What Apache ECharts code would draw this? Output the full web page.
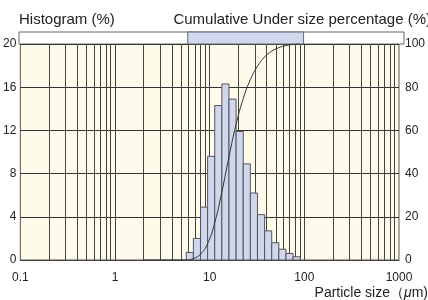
<!DOCTYPE html>
<html>
<head>
<meta charset="utf-8">
<script src="https://cdn.jsdelivr.net/npm/echarts@6/dist/echarts.min.js"></script>
<style>
    html, body { margin: 0; padding: 0; background: #fff; }
    #chart { width: 428px; height: 300px; }
</style>
</head>
<body>
<div id="chart"></div>
<script>
    // size classes (um), bar heights (%) and cumulative under size (%) at class edges
    let binEdges = [5.66, 6.73, 8, 9.51, 11.31, 13.45, 16, 19.03, 22.63, 26.91, 32, 38.05, 45.25, 53.82, 64, 76.11, 90.51];
    let histValues = [0.7, 2.0, 4.9, 9.6, 14.3, 16.3, 14.9, 11.9, 8.9, 6.2, 4.2, 2.7, 1.6, 1.0, 0.6, 0.3];
    let cumSizes = [2, 4, 5.66, 6.73, 8, 9.51, 11.31, 13.45, 16, 19.03, 22.63, 26.91, 32, 38.05, 45.25, 53.82, 64, 76.11, 90.51];
    let cumValues = [0, 0, 0, 0.7, 2.7, 7.6, 17.3, 31.5, 47.8, 62.8, 74.7, 83.5, 89.7, 94.0, 96.7, 98.3, 99.3, 99.8, 100];
    let xTickLabels = [0.1, 1, 10, 100, 1000];

    let font = 'Liberation Sans, Arial, sans-serif';

    // vertical grid lines at 1..9 of each decade
    let gridLines = [];
    for (let d = 0.1; d < 999; d *= 10) {
        for (let k = 1; k <= 9; k++) {
            if (k === 1 && d < 0.5) continue;
            gridLines.push({ xAxis: +(k * d).toPrecision(3) });
        }
    }

    let histData = [];
    for (let i = 0; i < histValues.length; i++) {
        histData.push([binEdges[i], binEdges[i + 1], histValues[i]]);
    }
    let cumData = [];
    for (let i = 0; i < cumSizes.length; i++) {
        cumData.push([cumSizes[i], cumValues[i]]);
    }

    let myChart = echarts.init(document.getElementById('chart'));
    myChart.setOption({
        animation: false,
        backgroundColor: '#fff',
        textStyle: { fontFamily: font },
        title: [
            {
                text: 'Histogram (%)',
                left: 19, top: 12, padding: 0,
                textStyle: { fontSize: 15, fontWeight: 'normal', color: '#222', fontFamily: font }
            },
            {
                text: 'Cumulative Under size percentage (%)',
                right: -3, top: 12, padding: 0,
                textStyle: { fontSize: 15, fontWeight: 'normal', color: '#222', fontFamily: font }
            }
        ],
        graphic: [{
            type: 'text',
            right: 0, top: 286,
            style: {
                text: 'Particle size（{i|μ}m)',
                fontSize: 14, fontFamily: font, fill: '#222',
                rich: { i: { fontStyle: 'italic', fontSize: 14, fontFamily: font } }
            }
        }],
        grid: [
            {
                left: 19, right: 24, top: 44, bottom: 40,
                show: true, backgroundColor: '#FFFBEA', borderColor: '#555', borderWidth: 1
            },
            {
                left: 19, right: 24, top: 32, height: 12,
                show: true, backgroundColor: '#fff', borderColor: '#666', borderWidth: 1
            }
        ],
        xAxis: [
            {
                type: 'log', logBase: 10, min: 0.1, max: 1000, gridIndex: 0,
                axisLine: { show: true, lineStyle: { color: '#444' } },
                axisTick: { show: false },
                splitLine: { show: false },
                axisLabel: {
                    color: '#222', fontSize: 12, margin: 12,
                    formatter: function (v) {
                        return xTickLabels.indexOf(+v) >= 0 ? String(+v) : '';
                    }
                }
            },
            {
                type: 'log', logBase: 10, min: 0.1, max: 1000, gridIndex: 1,
                show: false
            }
        ],
        yAxis: [
            {
                type: 'value', min: 0, max: 20, interval: 4, gridIndex: 0,
                axisLine: { show: false }, axisTick: { show: false },
                axisLabel: { color: '#222', fontSize: 12, margin: 4 },
                splitLine: { show: true, lineStyle: { color: '#333', width: 1 } }
            },
            {
                type: 'value', min: 0, max: 100, interval: 20, gridIndex: 0, position: 'right',
                axisLine: { show: false }, axisTick: { show: false },
                axisLabel: { color: '#222', fontSize: 12, margin: 6 },
                splitLine: { show: false }
            },
            {
                type: 'value', min: 0, max: 1, gridIndex: 1, show: false
            }
        ],
        series: [
            {
                // grid lines
                type: 'line', xAxisIndex: 0, yAxisIndex: 0, data: [], silent: true, z: 1,
                markLine: {
                    silent: true, symbol: 'none', animation: false, z: 1,
                    label: { show: false },
                    lineStyle: { color: '#444', width: 1, type: 'solid' },
                    data: gridLines
                }
            },
            {
                type: 'custom', xAxisIndex: 0, yAxisIndex: 0, data: histData, z: 10,
                renderItem: function (params, api) {
                    let p0 = api.coord([api.value(0), 0]);
                    let p1 = api.coord([api.value(1), api.value(2)]);
                    return {
                        type: 'rect',
                        shape: { x: p0[0], y: p1[1], width: p1[0] - p0[0], height: p0[1] - p1[1] },
                        style: { fill: '#CFD7EE', stroke: '#555', lineWidth: 1 }
                    };
                }
            },
            {
                type: 'line', xAxisIndex: 0, yAxisIndex: 1, data: cumData, z: 12,
                smooth: 0.5, showSymbol: false,
                lineStyle: { color: '#333', width: 1 }
            },
            {
                type: 'custom', xAxisIndex: 1, yAxisIndex: 2,
                data: [[binEdges[0], binEdges[binEdges.length - 1]]],
                renderItem: function (params, api) {
                    let p0 = api.coord([api.value(0), 0]);
                    let p1 = api.coord([api.value(1), 1]);
                    return {
                        type: 'rect',
                        shape: { x: p0[0], y: p1[1], width: p1[0] - p0[0], height: p0[1] - p1[1] },
                        style: { fill: '#D0D8EE', stroke: '#666', lineWidth: 1 }
                    };
                }
            }
        ]
    });
</script>
</body>
</html>
